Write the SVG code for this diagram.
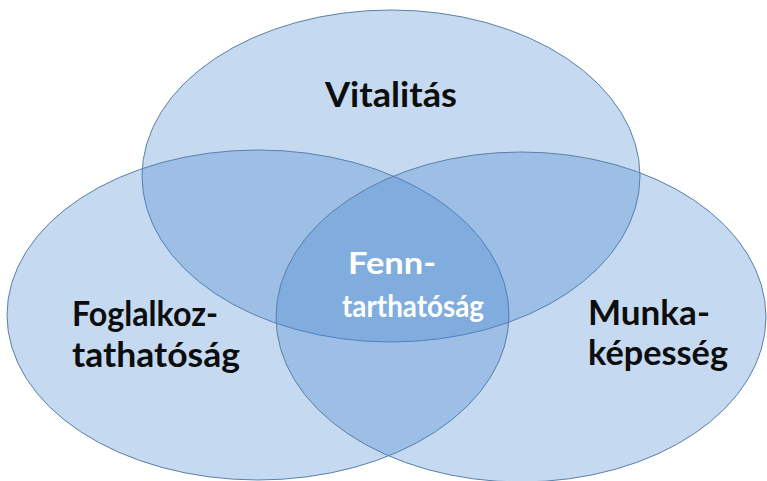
<svg xmlns="http://www.w3.org/2000/svg" width="767" height="481" viewBox="0 0 767 481">
  <style>
    .set { fill: rgb(68,133,207); fill-opacity: 0.31; stroke: #5a80aa; stroke-width: 1; }
    .lbl { font-family: Lato, "Open Sans", "Liberation Sans", sans-serif; font-weight: bold; font-size: 34px; fill: #0d0d0d; }
    .ctr { font-family: Lato, "Open Sans", "Liberation Sans", sans-serif; font-weight: bold; font-size: 31px; fill: #ffffff; }
  </style>
  <rect width="767" height="481" fill="#ffffff"/>
  <g id="connectors"></g>
  <g id="vitalitas">
    <ellipse class="set" cx="391" cy="176" rx="249" ry="166"/>
    <text class="lbl" x="325" y="107" textLength="132" lengthAdjust="spacingAndGlyphs">Vitalitás</text>
  </g>
  <g id="foglalkoztathatosag">
    <ellipse class="set" cx="258" cy="315" rx="251" ry="165"/>
    <text class="lbl" x="72" y="326" textLength="146" lengthAdjust="spacingAndGlyphs">Foglalkoz-</text>
    <text class="lbl" x="72" y="367" textLength="168" lengthAdjust="spacingAndGlyphs">tathatóság</text>
  </g>
  <g id="munkakepesseg">
    <ellipse class="set" cx="521" cy="317" rx="245" ry="165"/>
    <text class="lbl" x="588" y="325" textLength="122" lengthAdjust="spacingAndGlyphs">Munka-</text>
    <text class="lbl" x="588" y="365" textLength="140" lengthAdjust="spacingAndGlyphs">képesség</text>
  </g>
  <g id="fenntarthatosag">
    <text class="ctr" x="348" y="274" textLength="88" lengthAdjust="spacingAndGlyphs">Fenn-</text>
    <text class="ctr" x="342" y="317" textLength="142" lengthAdjust="spacingAndGlyphs">tarthatóság</text>
  </g>
</svg>
